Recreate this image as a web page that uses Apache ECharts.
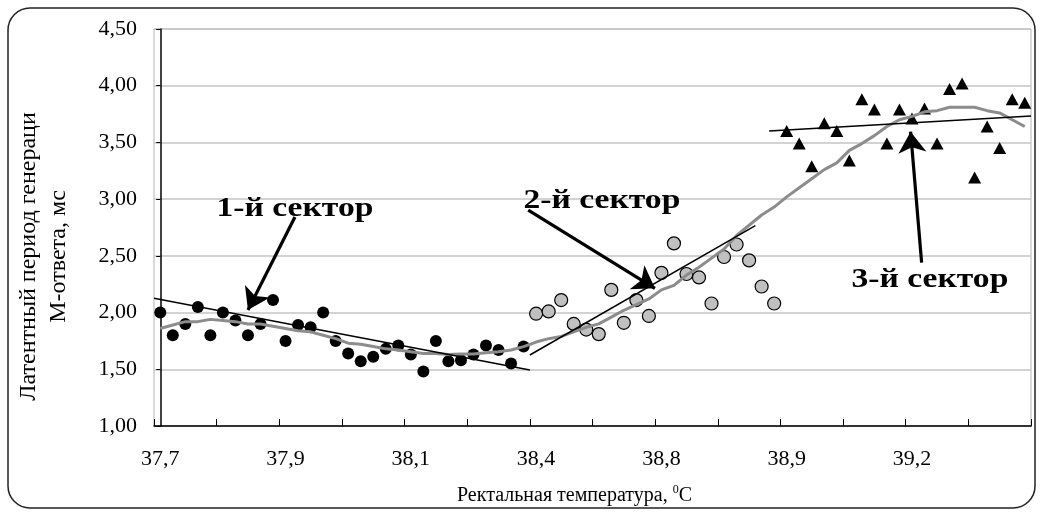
<!DOCTYPE html>
<html>
<head>
<meta charset="utf-8">
<script src="https://cdn.jsdelivr.net/npm/echarts@6/dist/echarts.min.js"></script>
<style>
  html, body { margin: 0; padding: 0; background: #fff; }
  #chart { width: 1040px; height: 512px; }
</style>
</head>
<body>
<div id="chart"></div>
<script>
// ---- data ----
const tickLabels = ['37,7', '37,9', '38,1', '38,4', '38,8', '38,9', '39,2'];
const labelEvery = 10;

// sector 1 (black dots)
const sector1 = [2.00, 1.80, 1.90, 2.05, 1.80, 2.00, 1.93, 1.80, 1.90, 2.11,
                 1.75, 1.89, 1.87, 2.00, 1.75, 1.64, 1.57, 1.61, 1.68, 1.71,
                 1.63, 1.48, 1.75, 1.57, 1.58, 1.63, 1.71, 1.67, 1.55, 1.70];
// sector 2 (grey circles)
const sector2 = [1.99, 2.01, 2.11, 1.90, 1.85, 1.81, 2.20, 1.91, 2.11, 1.97,
                 2.35, 2.61, 2.34, 2.31, 2.08, 2.49, 2.60, 2.46, 2.23, 2.08];
// sector 3 (triangles)
const sector3 = [3.60, 3.49, 3.29, 3.67, 3.60, 3.34, 3.88, 3.79, 3.49, 3.79,
                 3.71, 3.80, 3.49, 3.97, 4.02, 3.19, 3.64, 3.45, 3.88, 3.85];
// smoothed grey curve over all points
const smooth = [1.86, 1.89, 1.92, 1.92, 1.94, 1.93, 1.92, 1.90, 1.90, 1.88,
                1.86, 1.84, 1.83, 1.80, 1.77, 1.73, 1.72, 1.70, 1.68, 1.67,
                1.655, 1.64, 1.64, 1.63, 1.635, 1.635, 1.645, 1.655, 1.67, 1.70,
                1.74, 1.77, 1.79, 1.83, 1.87, 1.90, 1.96, 2.02, 2.07, 2.12,
                2.20, 2.24, 2.33, 2.40, 2.48, 2.56, 2.68, 2.77, 2.86, 2.93,
                3.02, 3.10, 3.18, 3.26, 3.32, 3.43, 3.49, 3.56, 3.64, 3.70,
                3.73, 3.77, 3.78, 3.81, 3.81, 3.81, 3.78, 3.76, 3.70, 3.64];
// linear trend lines: [categoryPosition, value] endpoints
const trend1 = [[-0.5, 2.126], [29.5, 1.494]];
const trend2 = [[29.5, 1.626], [47.5, 2.766]];
const trend3 = [[48.6, 3.600], [69.5, 3.733]];
// annotation arrows (tail -> head) and labels, in data units
const arrows = [
  { from: [10.75, 2.843], to: [7.0, 2.023] },
  { from: [29.37, 2.904], to: [39.48, 2.214] },
  { from: [60.77, 2.44], to: [59.89, 3.595] }
];
const notes = [
  { text: '1-й сектор', at: [10.75, 2.913] },
  { text: '2-й сектор', at: [35.25, 2.99] },
  { text: '3-й сектор', at: [61.43, 2.287] }
];
const yMin = 1, yMax = 4.5, yStep = 0.5;

// ---- build ----
const off2 = sector1.length;
const off3 = sector1.length + sector2.length;
const nCat = off3 + sector3.length;
const categories = Array.from({ length: nCat }, (_, i) => String(i));
const SERIF = '"Liberation Serif", "Times New Roman", serif';

const chart = echarts.init(document.getElementById('chart'), null, { renderer: 'canvas' });

const option = {
  animation: false,
  backgroundColor: '#ffffff',
  grid: { left: 154, right: 9, top: 29, bottom: 86, show: true, borderColor: '#b4b4b4', borderWidth: 1, backgroundColor: 'transparent' },
  xAxis: [
    {
      type: 'category',
      data: categories,
      boundaryGap: true,
      axisLine: { lineStyle: { color: '#000', width: 1.5 } },
      axisTick: { show: true, inside: true, length: 7, interval: 4, lineStyle: { color: '#000', width: 1 } },
      axisLabel: {
        interval: labelEvery - 1,
        formatter: (v, i) => tickLabels[i / labelEvery] || '',
        margin: 22, fontFamily: SERIF, fontSize: 22, color: '#000'
      },
      splitLine: { show: false },
      name: 'Ректальная температура, {sup|0}C',
      nameLocation: 'middle',
      nameGap: 58,
      nameTextStyle: {
        fontFamily: SERIF, fontSize: 20, color: '#000', padding: [0, 36, 0, 0],
        rich: { sup: { fontFamily: SERIF, fontSize: 12, color: '#000', padding: [0, 0, 12, 0] } }
      }
    },
    { type: 'value', min: -0.5, max: nCat - 0.5, show: false }
  ],
  yAxis: {
    type: 'value', min: yMin, max: yMax, interval: yStep,
    axisLine: { show: true, lineStyle: { color: '#000', width: 1.5 } },
    axisTick: { show: true, length: 4, lineStyle: { color: '#000' } },
    axisLabel: {
      formatter: v => v.toFixed(2).replace('.', ','),
      margin: 17, fontFamily: SERIF, fontSize: 22, color: '#000'
    },
    splitLine: { show: true, lineStyle: { color: '#c4c4c4', width: 1.5 } },
    name: 'Латентный период генераци\nМ-ответа, мс',
    nameLocation: 'middle',
    nameRotate: 90,
    nameGap: 80,
    nameTextStyle: { fontFamily: SERIF, fontSize: 24, color: '#000', lineHeight: 30, padding: [0, 58, 0, 0] }
  },
  series: [
    {
      name: 'sector1', type: 'scatter', xAxisIndex: 1, z: 2,
      data: sector1.map((v, i) => [i, v]),
      symbol: 'circle', symbolSize: 12,
      itemStyle: { color: '#000', opacity: 1 }
    },
    {
      name: 'sector2', type: 'scatter', xAxisIndex: 1, z: 2,
      data: sector2.map((v, i) => [off2 + i, v]),
      symbol: 'circle', symbolSize: 13,
      itemStyle: { color: '#c0c0c0', borderColor: '#000', borderWidth: 1.2, opacity: 1 }
    },
    {
      name: 'sector3', type: 'scatter', xAxisIndex: 1, z: 2,
      data: sector3.map((v, i) => [off3 + i, v]),
      symbol: 'triangle', symbolSize: [13, 12],
      itemStyle: { color: '#000', opacity: 1 }
    },
    {
      name: 'smooth', type: 'line', xAxisIndex: 1, z: 3,
      data: smooth.map((v, i) => [i, v]),
      showSymbol: false, symbol: 'none',
      lineStyle: { color: '#8c8c8c', width: 3 },
      markLine: {
        silent: true, animation: false,
        symbol: ['none', 'arrow'], symbolSize: 21,
        label: { show: false },
        lineStyle: { color: '#000', width: 3.2, type: 'solid' },
        itemStyle: { color: '#000' },
        data: arrows.map(a => [{ coord: a.from }, { coord: a.to }])
      }
    },
    ...[trend1, trend2, trend3].map((t, k) => ({
      name: 'trend' + (k + 1), type: 'line', xAxisIndex: 1, z: 4,
      data: t, symbol: 'none', showSymbol: false,
      lineStyle: { color: '#000', width: 1.5 }
    }))
  ]
};

chart.setOption(option);

const graphics = [
  {
    type: 'rect', silent: true, z: 100,
    shape: { x: 8, y: 8, width: 1027, height: 500, r: 22 },
    style: { fill: null, stroke: '#222', lineWidth: 1.5 }
  }
];
notes.forEach(n => {
  const p = chart.convertToPixel({ xAxisIndex: 1, yAxisIndex: 0 }, n.at);
  graphics.push({
    type: 'text', x: p[0], y: p[1], scaleX: 1.2, z: 100,
    style: { text: n.text, fill: '#000', font: 'bold 28px ' + SERIF, align: 'center', verticalAlign: 'middle' }
  });
});
chart.setOption({ graphic: graphics });
</script>
</body>
</html>
